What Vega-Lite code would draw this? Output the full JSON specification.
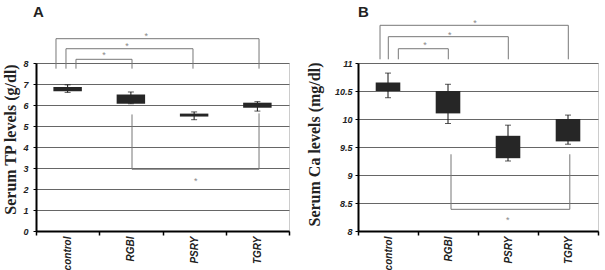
{
  "$schema": "https://vega.github.io/schema/vega-lite/v6.json",
  "padding": {"left": 2, "top": 4, "right": 4, "bottom": 2},
  "spacing": 14,
  "config": {
    "view": {"stroke": "#cccccc", "strokeWidth": 1},
    "font": "Liberation Sans",
    "axisY": {"titleFont": "Liberation Serif", "titleFontSize": 16, "titleFontWeight": "bold", "titleColor": "#222222", "labelFontStyle": "italic", "labelFontWeight": "bold", "labelFontSize": 9, "labelColor": "#222222", "tickSize": 3, "tickColor": "#000000", "domainColor": "#000000", "domainWidth": 2, "grid": true, "gridColor": "#666666", "gridWidth": 1},
    "axisX": {"labelAngle": -90, "labelFontStyle": "italic", "labelFontWeight": "bold", "labelFontSize": 10, "labelColor": "#222222", "labelPadding": 1, "tickBand": "extent", "ticks": true, "tickSize": 4, "tickColor": "#000000", "tickWidth": 1.5, "domainColor": "#000000", "domainWidth": 2, "grid": false}
  },
  "datasets": {
    "tp": [
      {"cat": "control", "lo": 6.6, "q1": 6.66, "q3": 6.86, "hi": 6.96},
      {"cat": "RGBI", "lo": 6.06, "q1": 6.06, "q3": 6.5, "hi": 6.62},
      {"cat": "PSRY", "lo": 5.3, "q1": 5.45, "q3": 5.59, "hi": 5.67},
      {"cat": "TGRY", "lo": 5.71, "q1": 5.87, "q3": 6.11, "hi": 6.16}
    ],
    "ca": [
      {"cat": "control", "lo": 10.38, "q1": 10.5, "q3": 10.65, "hi": 10.82},
      {"cat": "RGBI", "lo": 9.92, "q1": 10.1, "q3": 10.5, "hi": 10.62},
      {"cat": "PSRY", "lo": 9.25, "q1": 9.3, "q3": 9.7, "hi": 9.89},
      {"cat": "TGRY", "lo": 9.55, "q1": 9.6, "q3": 10.0, "hi": 10.07}
    ],
    "tpBr": [
      {"b": "1", "o": 1, "bx": 0.316, "by": 7.73},
      {"b": "1", "o": 2, "bx": 0.316, "by": 9.157},
      {"b": "1", "o": 3, "bx": 3.526, "by": 9.157},
      {"b": "1", "o": 4, "bx": 3.526, "by": 7.73},
      {"b": "2", "o": 1, "bx": 0.474, "by": 7.73},
      {"b": "2", "o": 2, "bx": 0.474, "by": 8.68},
      {"b": "2", "o": 3, "bx": 2.482, "by": 8.68},
      {"b": "2", "o": 4, "bx": 2.482, "by": 7.73},
      {"b": "3", "o": 1, "bx": 0.632, "by": 7.73},
      {"b": "3", "o": 2, "bx": 0.632, "by": 8.176},
      {"b": "3", "o": 3, "bx": 1.518, "by": 8.176},
      {"b": "3", "o": 4, "bx": 1.518, "by": 7.73},
      {"b": "4", "o": 1, "bx": 1.518, "by": 5.55},
      {"b": "4", "o": 2, "bx": 1.518, "by": 2.94},
      {"b": "4", "o": 3, "bx": 3.526, "by": 2.94},
      {"b": "4", "o": 4, "bx": 3.526, "by": 5.6}
    ],
    "tpStar": [
      {"sx": 1.744, "sy": 9.28},
      {"sx": 1.439, "sy": 8.8},
      {"sx": 1.075, "sy": 8.37},
      {"sx": 2.525, "sy": 2.37}
    ],
    "caBr": [
      {"b": "1", "o": 1, "bx": 0.367, "by": 11.066},
      {"b": "1", "o": 2, "bx": 0.367, "by": 11.673},
      {"b": "1", "o": 3, "bx": 3.505, "by": 11.673},
      {"b": "1", "o": 4, "bx": 3.505, "by": 11.066},
      {"b": "2", "o": 1, "bx": 0.505, "by": 11.066},
      {"b": "2", "o": 2, "bx": 0.505, "by": 11.47},
      {"b": "2", "o": 3, "bx": 2.505, "by": 11.47},
      {"b": "2", "o": 4, "bx": 2.505, "by": 11.066},
      {"b": "3", "o": 1, "bx": 0.672, "by": 11.066},
      {"b": "3", "o": 2, "bx": 0.672, "by": 11.255},
      {"b": "3", "o": 3, "bx": 1.505, "by": 11.255},
      {"b": "3", "o": 4, "bx": 1.505, "by": 11.066},
      {"b": "4", "o": 1, "bx": 1.55, "by": 9.37},
      {"b": "4", "o": 2, "bx": 1.55, "by": 8.387},
      {"b": "4", "o": 3, "bx": 3.53, "by": 8.387},
      {"b": "4", "o": 4, "bx": 3.53, "by": 9.37}
    ],
    "caStar": [
      {"sx": 1.95, "sy": 11.714},
      {"sx": 1.53, "sy": 11.494},
      {"sx": 1.117, "sy": 11.314},
      {"sx": 2.495, "sy": 8.204}
    ]
  },
  "hconcat": [
    {
      "width": 253,
      "height": 168,
      "title": {"text": "A", "anchor": "start", "frame": "group", "fontSize": 15, "fontWeight": "bold", "font": "Liberation Sans", "color": "#222222", "baseline": "alphabetic", "offset": 0, "dx": -3},
      "layer": [
        {
          "data": {"name": "tp"},
          "encoding": {
            "x": {"field": "cat", "type": "nominal", "sort": null, "scale": {"paddingInner": 0, "paddingOuter": 0}, "axis": {"title": null}}
          },
          "layer": [
            {
              "mark": {"type": "rule", "color": "#111111", "strokeWidth": 1},
              "encoding": {
                "y": {"field": "lo", "type": "quantitative", "scale": {"domain": [0, 8], "nice": false}, "axis": {"title": "Serum TP levels (g/dl)", "titleY": 76, "titlePadding": 4, "labelPadding": 5, "values": [0, 1, 2, 3, 4, 5, 6, 7, 8]}},
                "y2": {"field": "hi"}
              }
            },
            {
              "mark": {"type": "tick", "size": 6, "thickness": 1, "color": "#111111"},
              "encoding": {"y": {"field": "lo", "type": "quantitative", "scale": {"domain": [0, 8], "nice": false}, "axis": {"title": "Serum TP levels (g/dl)", "titleY": 76, "titlePadding": 4, "labelPadding": 5, "values": [0, 1, 2, 3, 4, 5, 6, 7, 8]}}}
            },
            {
              "mark": {"type": "tick", "size": 6, "thickness": 1, "color": "#111111"},
              "encoding": {"y": {"field": "hi", "type": "quantitative", "scale": {"domain": [0, 8], "nice": false}, "axis": {"title": "Serum TP levels (g/dl)", "titleY": 76, "titlePadding": 4, "labelPadding": 5, "values": [0, 1, 2, 3, 4, 5, 6, 7, 8]}}}
            },
            {
              "mark": {"type": "bar", "width": {"band": 0.45}, "color": "#262626"},
              "encoding": {
                "y": {"field": "q1", "type": "quantitative", "scale": {"domain": [0, 8], "nice": false}, "axis": {"title": "Serum TP levels (g/dl)", "titleY": 76, "titlePadding": 4, "labelPadding": 5, "values": [0, 1, 2, 3, 4, 5, 6, 7, 8]}},
                "y2": {"field": "q3"}
              }
            }
          ]
        },
        {
          "layer": [
            {
              "data": {"name": "tpBr"},
              "mark": {"type": "line", "color": "#777777", "strokeWidth": 1},
              "encoding": {
                "x": {"field": "bx", "type": "quantitative", "scale": {"domain": [0, 4], "nice": false, "zero": false}, "axis": null},
                "y": {"field": "by", "type": "quantitative", "scale": {"domain": [0, 8], "nice": false}, "axis": {"title": "Serum TP levels (g/dl)", "titleY": 76, "titlePadding": 4, "labelPadding": 5, "values": [0, 1, 2, 3, 4, 5, 6, 7, 8]}},
                "detail": {"field": "b"},
                "order": {"field": "o"}
              }
            },
            {
              "data": {"name": "tpStar"},
              "mark": {"type": "text", "text": "*", "fontSize": 9, "color": "#888888", "baseline": "middle"},
              "encoding": {
                "x": {"field": "sx", "type": "quantitative", "scale": {"domain": [0, 4], "nice": false, "zero": false}, "axis": null},
                "y": {"field": "sy", "type": "quantitative", "scale": {"domain": [0, 8], "nice": false}, "axis": {"title": "Serum TP levels (g/dl)", "titleY": 76, "titlePadding": 4, "labelPadding": 5, "values": [0, 1, 2, 3, 4, 5, 6, 7, 8]}}
              }
            }
          ]
        }
      ],
      "resolve": {"scale": {"x": "independent"}}
    },
    {
      "width": 240,
      "height": 168,
      "title": {"text": "B", "anchor": "start", "frame": "group", "fontSize": 15, "fontWeight": "bold", "font": "Liberation Sans", "color": "#222222", "baseline": "alphabetic", "offset": -13, "dx": 0},
      "layer": [
        {
          "data": {"name": "ca"},
          "encoding": {
            "x": {"field": "cat", "type": "nominal", "sort": null, "scale": {"paddingInner": 0, "paddingOuter": 0}, "axis": {"title": null}}
          },
          "layer": [
            {
              "mark": {"type": "rule", "color": "#111111", "strokeWidth": 1},
              "encoding": {
                "y": {"field": "lo", "type": "quantitative", "scale": {"domain": [8, 11], "nice": false, "zero": false}, "axis": {"title": "Serum Ca levels (mg/dl)", "titleY": 81, "titlePadding": 12, "labelPadding": 3, "format": "~g", "values": [8, 8.5, 9, 9.5, 10, 10.5, 11]}},
                "y2": {"field": "hi"}
              }
            },
            {
              "mark": {"type": "tick", "size": 6, "thickness": 1, "color": "#111111"},
              "encoding": {"y": {"field": "lo", "type": "quantitative", "scale": {"domain": [8, 11], "nice": false, "zero": false}, "axis": {"title": "Serum Ca levels (mg/dl)", "titleY": 81, "titlePadding": 12, "labelPadding": 3, "format": "~g", "values": [8, 8.5, 9, 9.5, 10, 10.5, 11]}}}
            },
            {
              "mark": {"type": "tick", "size": 6, "thickness": 1, "color": "#111111"},
              "encoding": {"y": {"field": "hi", "type": "quantitative", "scale": {"domain": [8, 11], "nice": false, "zero": false}, "axis": {"title": "Serum Ca levels (mg/dl)", "titleY": 81, "titlePadding": 12, "labelPadding": 3, "format": "~g", "values": [8, 8.5, 9, 9.5, 10, 10.5, 11]}}}
            },
            {
              "mark": {"type": "bar", "width": {"band": 0.41}, "color": "#262626"},
              "encoding": {
                "y": {"field": "q1", "type": "quantitative", "scale": {"domain": [8, 11], "nice": false, "zero": false}, "axis": {"title": "Serum Ca levels (mg/dl)", "titleY": 81, "titlePadding": 12, "labelPadding": 3, "format": "~g", "values": [8, 8.5, 9, 9.5, 10, 10.5, 11]}},
                "y2": {"field": "q3"}
              }
            }
          ]
        },
        {
          "layer": [
            {
              "data": {"name": "caBr"},
              "mark": {"type": "line", "color": "#777777", "strokeWidth": 1},
              "encoding": {
                "x": {"field": "bx", "type": "quantitative", "scale": {"domain": [0, 4], "nice": false, "zero": false}, "axis": null},
                "y": {"field": "by", "type": "quantitative", "scale": {"domain": [8, 11], "nice": false, "zero": false}, "axis": {"title": "Serum Ca levels (mg/dl)", "titleY": 81, "titlePadding": 12, "labelPadding": 3, "format": "~g", "values": [8, 8.5, 9, 9.5, 10, 10.5, 11]}},
                "detail": {"field": "b"},
                "order": {"field": "o"}
              }
            },
            {
              "data": {"name": "caStar"},
              "mark": {"type": "text", "text": "*", "fontSize": 9, "color": "#888888", "baseline": "middle"},
              "encoding": {
                "x": {"field": "sx", "type": "quantitative", "scale": {"domain": [0, 4], "nice": false, "zero": false}, "axis": null},
                "y": {"field": "sy", "type": "quantitative", "scale": {"domain": [8, 11], "nice": false, "zero": false}, "axis": {"title": "Serum Ca levels (mg/dl)", "titleY": 81, "titlePadding": 12, "labelPadding": 3, "format": "~g", "values": [8, 8.5, 9, 9.5, 10, 10.5, 11]}}
              }
            }
          ]
        }
      ],
      "resolve": {"scale": {"x": "independent"}}
    }
  ]
}
